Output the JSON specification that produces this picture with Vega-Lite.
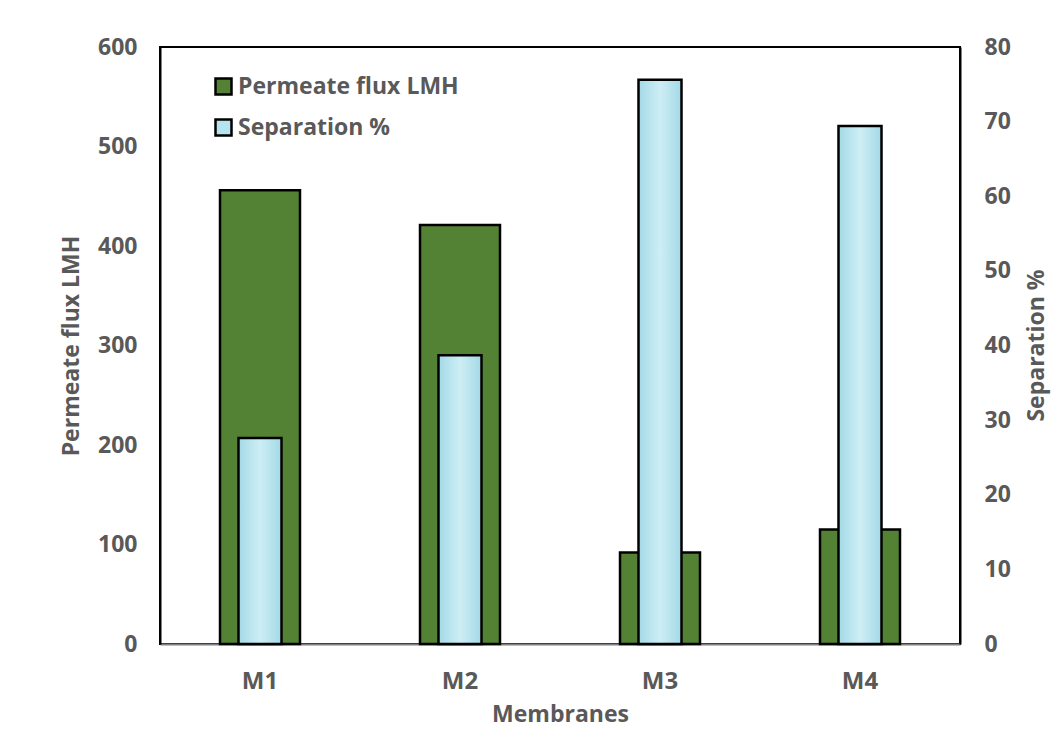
{
  "$schema": "https://vega.github.io/schema/vega-lite/v6.json",
  "width": 800,
  "height": 597,
  "autosize": {"type": "none"},
  "padding": {"left": 160, "top": 47, "right": 101, "bottom": 90},
  "background": "white",
  "config": {
    "view": {"stroke": "black", "strokeWidth": 2},
    "font": "Open Sans",
    "axis": {"labelFont": "Open Sans", "titleFont": "Open Sans", "labelColor": "#595959", "titleColor": "#595959", "labelFontWeight": "bold", "titleFontWeight": "bold", "grid": false, "ticks": false}
  },
  "data": {"values": [
    {"membrane": "M1", "flux": 456, "separation": 27.6},
    {"membrane": "M2", "flux": 421, "separation": 38.7},
    {"membrane": "M3", "flux": 92, "separation": 75.6},
    {"membrane": "M4", "flux": 115, "separation": 69.4}
  ]},
  "encoding": {
    "x": {"field": "membrane", "type": "nominal", "sort": null,
      "scale": {"paddingInner": 0, "paddingOuter": 0},
      "axis": {"title": "Membranes", "labelAngle": 0, "labelFontSize": 24, "titleFontSize": 23, "labelPadding": 25, "titlePadding": 10, "domainColor": "#808080", "domainWidth": 2}}
  },
  "layer": [
    {
      "mark": {"type": "bar", "size": 80, "stroke": "black", "strokeWidth": 2.5},
      "encoding": {
        "y": {"field": "flux", "type": "quantitative", "scale": {"domain": [0, 600]},
          "axis": {"title": "Permeate flux LMH", "values": [0,100,200,300,400,500,600], "labelFontSize": 23, "titleFontSize": 23, "labelPadding": 23, "titlePadding": 14, "domainColor": "black", "domainWidth": 2}},
        "color": {"datum": "Permeate flux LMH", "type": "nominal",
          "scale": {"domain": ["Permeate flux LMH", "Separation %"], "range": ["#548235", "#b4e4ee"]},
          "legend": {"title": null, "orient": "none", "legendX": 52, "legendY": 28, "symbolType": "square", "symbolSize": 256, "symbolStrokeColor": "black", "symbolStrokeWidth": 2.5, "labelFontSize": 23, "labelLimit": 500, "labelFont": "Open Sans", "labelFontWeight": "bold", "labelColor": "#595959", "rowPadding": 14, "labelOffset": 3}}
      }
    },
    {
      "mark": {"type": "bar", "size": 43, "stroke": "black", "strokeWidth": 2.5,
        "fill": {"gradient": "linear", "x1": 0, "y1": 0, "x2": 1, "y2": 0, "stops": [
          {"offset": 0, "color": "#a3d9e6"}, {"offset": 0.5, "color": "#cdeef5"}, {"offset": 1, "color": "#a3d9e6"}]}},
      "encoding": {
        "y": {"field": "separation", "type": "quantitative", "scale": {"domain": [0, 80]},
          "axis": {"orient": "right", "title": "Separation %", "titleAngle": 270, "titleX": 76, "titleY": 298, "titleAlign": "center", "titleBaseline": "middle", "values": [0,10,20,30,40,50,60,70,80], "labelFontSize": 23, "titleFontSize": 23, "labelPadding": 24, "domainColor": "black", "domainWidth": 2}},
        "color": {"datum": "Separation %", "type": "nominal"}
      }
    }
  ],
  "resolve": {"scale": {"y": "independent"}}
}
